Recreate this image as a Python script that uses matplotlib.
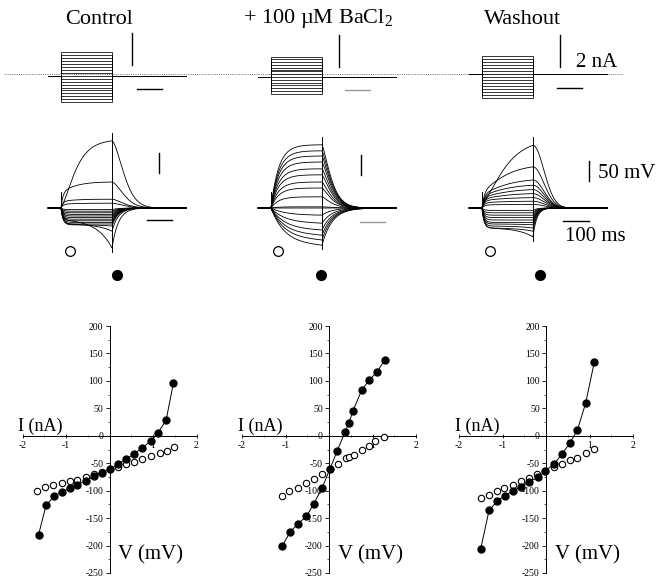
import numpy as np
import matplotlib.pyplot as plt
from matplotlib.ticker import MultipleLocator, FixedLocator, FixedFormatter

plt.rcParams['font.family'] = ['Liberation Serif', 'DejaVu Serif']
plt.rcParams['mathtext.fontset'] = 'custom'
plt.rcParams['mathtext.rm'] = 'Liberation Serif'
plt.rcParams['axes.unicode_minus'] = False

conditions = ['Control', '+ 100 µM BaCl$_2$', 'Washout']

# I-V points, filled = end of step, open = start of step
ctrl_filled_x = [-1.63, -1.46, -1.27, -1.09, -0.90, -0.74, -0.54, -0.35, -0.18, 0.02,
                 0.20, 0.38, 0.57, 0.75, 0.96, 1.11, 1.30, 1.47]
ctrl_filled_y = [-180, -127, -110, -102, -95, -89, -82, -74, -67, -61,
                 -52, -42, -33, -22, -9, 5, 28, 96]
ctrl_open_x = [-1.66, -1.48, -1.29, -1.10, -0.90, -0.74, -0.54, -0.35, -0.18, 0.02,
               0.20, 0.38, 0.57, 0.75, 0.96, 1.15, 1.33, 1.49]
ctrl_open_y = [-100, -93, -89, -86, -83, -80, -76, -69, -66, -60,
               -56, -51, -47, -42, -36, -31, -27, -21]

ba_filled_x = [-1.08, -0.89, -0.71, -0.52, -0.35, -0.16, 0.02, 0.19, 0.37, 0.46,
               0.55, 0.75, 0.92, 1.11, 1.28]
ba_filled_y = [-201, -175, -160, -147, -124, -95, -61, -27, 7, 24,
               45, 83, 101, 117, 138]
ba_open_x = [-1.08, -0.91, -0.72, -0.54, -0.35, -0.17, 0.02, 0.20, 0.38, 0.46,
             0.57, 0.75, 0.92, 1.05, 1.27]
ba_open_y = [-110, -100, -95, -86, -78, -70, -60, -52, -41, -38,
             -35, -25, -18, -9, -2]

wash_filled_x = [-1.50, -1.31, -1.12, -0.95, -0.77, -0.58, -0.39, -0.19, -0.02, 0.18,
                 0.36, 0.55, 0.72, 0.91, 1.11]
wash_filled_y = [-206, -136, -119, -109, -101, -93, -84, -76, -64, -52,
                 -34, -13, 10, 59, 134]
wash_open_x = [-1.50, -1.32, -1.12, -0.96, -0.77, -0.58, -0.39, -0.21, -0.02, 0.18,
               0.36, 0.55, 0.72, 0.91, 1.11]
wash_open_y = [-113, -107, -101, -95, -89, -83, -77, -70, -64, -57,
               -52, -45, -41, -32, -24]

filled_x = [ctrl_filled_x, ba_filled_x, wash_filled_x]
filled_y = [ctrl_filled_y, ba_filled_y, wash_filled_y]
open_x = [ctrl_open_x, ba_open_x, wash_open_x]
open_y = [ctrl_open_y, ba_open_y, wash_open_y]

# voltage deflections from rest (mV): early part of step and end of step
ctrl_end = [168, 65, 22, 12, -4, -8, -12, -16, -20, -24, -28, -32, -36, -40, -45, -58, -100]
ctrl_early = [10, 45, 18, 10, -4, -8, -12, -16, -20, -24, -28, -32, -36, -40, -42, -40, -30]
ba_end = [158, 143, 130, 115, 98, 83, 65, 50, 28, 3, 0, -18, -38, -55, -68, -80, -93]
ba_early = ba_end
wash_end = [157, 103, 70, 57, 46, 36, 26, 17, 9, -6, -12, -18, -24, -30, -36, -42, -50, -58, -72]
wash_early = [20, 50, 40, 35, 30, 25, 20, 14, 8, -6, -12, -18, -24, -30, -36, -40, -45, -50, -50]
v_end = [ctrl_end, ba_end, wash_end]
v_early = [ctrl_early, ba_early, wash_early]

# time constants per condition (ms)
kin = [dict(tf=(8, 8), ts=45, ta=60, td=60, p=1.6, tn=25),
       dict(tf=(30, 55), ts=45, ta=60, td=45, p=1.3, tn=40),
       dict(tf=(10, 8), ts=70, ta=60, td=60, p=2.0, tn=15)]

W, H = 666, 585
STEP = 200
PX_MS = 0.255
PX_NA = 16
PX_MV = 0.4
step_x = [61, 271, 482]
i_base = [76, 77, 74]
v_base = 208
t = np.linspace(-50, 490, 2161)


def v_trace(early, end, tf, ts, ta, td, p, tn):
    v = np.zeros_like(t)
    on = (t >= 0) & (t <= STEP)
    tt = t[on]
    tau = tf[0] if end >= 0 else tf[1]
    fast = early * (1 - np.exp(-tt / tau))
    rest = end - early * (1 - np.exp(-STEP / tau))
    if rest >= 0:
        r = ((1 - np.exp(-tt / ts)) / (1 - np.exp(-STEP / ts))) ** 2
    else:
        r = (np.exp(tt / ta) - 1) / (np.exp(STEP / ta) - 1)
    v[on] = fast + rest * r
    off = t > STEP
    dt = t[off] - STEP
    if end > 0:
        v[off] = end * np.exp(-(dt / td) ** p)
    else:
        v[off] = end * np.exp(-dt / tn)
    return v


fig = plt.figure(figsize=(W / 100, H / 100), dpi=100)


def px_axes(x0, y0, w, h):
    ax = fig.add_axes([x0 / W, 1 - (y0 + h) / H, w / W, h / H])
    ax.set_axis_off()
    ax.patch.set_visible(False)
    return ax


# zero current reference line
ref = px_axes(0, 74 - 48, W, 96)
ref.set_xlim(0, 1)
ref.set_ylim(-3, 3)
ref.axhline(0, xmin=0.006, xmax=0.935, color='0.35', lw=0.6, ls=(0, (1, 1.2)))

# scale bars: (current bar t, i0, i1), (time bar t0, y), (voltage bar t, v0, v1), (time bar t0, y)
i_bar = [(278, 0.69, 2.69), (267, 0.6, 2.6), (306, 0.44, 2.44)]
i_tbar = [(298, -0.81), (290, -0.81), (294, -0.875)]
v_bar = [(384, 87.5, 137.5), (353, 82.5, 132.5), (420, 67.5, 117.5)]
v_tbar = [(337, -30), (349, -35), (318, -32.5)]
tbar_color = ['black', '0.6', 'black']
marker_t = [(35, 220), (27, 196), (31, 227)]

for k in range(3):
    x0 = step_x[k]
    # current traces
    ai = px_axes(x0 - 250 * PX_MS, i_base[k] - 3 * PX_NA, 1000 * PX_MS, 6 * PX_NA)
    ai.set_xlim(-250, 750)
    ai.set_ylim(-3, 3)
    for a in filled_x[k]:
        ai.plot([-50, 0, 0, STEP, STEP, 490], [0, 0, a, a, 0, 0], color='black', lw=0.55)
    ti, b0, b1 = i_bar[k]
    ai.plot([ti, ti], [b0, b1], color='black', lw=1.0)
    tb, yb = i_tbar[k]
    ai.plot([tb, tb + 100], [yb, yb], color=tbar_color[k], lw=1.0)

    # voltage traces
    av = px_axes(x0 - 250 * PX_MS, v_base - 200 * PX_MV, 1000 * PX_MS, 380 * PX_MV)
    av.set_xlim(-250, 750)
    av.set_ylim(-180, 200)
    for e0, e1 in zip(v_early[k], v_end[k]):
        av.plot(t, v_trace(e0, e1, **kin[k]), color='black', lw=0.6)
    av.plot([STEP, STEP], [min(v_end[k]) - 10, max(v_end[k]) + 20], color='black', lw=0.7)
    av.plot([0, 0], [-5, 40], color='black', lw=0.7)
    tv, c0, c1 = v_bar[k]
    av.plot([tv, tv], [c0, c1], color='black', lw=1.0)
    tb, yb = v_tbar[k]
    av.plot([tb, tb + 100], [yb, yb], color=tbar_color[k], lw=1.0)
    av.plot(marker_t[k][0], -107.5, 'o', ms=7, mfc='white', mec='black', mew=0.9, clip_on=False)
    av.plot(marker_t[k][1], -167.5, 'o', ms=7, mfc='black', mec='black', clip_on=False)

    if k == 2:
        ai.text(369, 0.69, '2 nA', fontsize=15, ha='left', va='center')
        av.text(455, 87.5, '50 mV', fontsize=15, ha='left', va='center')
        av.text(325, -70, '100 ms', fontsize=15, ha='left', va='center')

# condition titles
title_x = [99, 318, 523]
for k in range(3):
    fig.text(title_x[k] / W, 1 - 19 / H, conditions[k], fontsize=16, ha='center', va='center')

# I-V plots
iv_center = [109.5, 329, 546]
for k in range(3):
    ax = fig.add_axes([(iv_center[k] - 87) / W, 1 - 573 / H, 174 / W, 247 / H])
    ax.patch.set_visible(False)
    ax.set_xlim(-2, 2)
    ax.set_ylim(-250, 200)
    for s in ['top', 'right']:
        ax.spines[s].set_visible(False)
    ax.spines['left'].set_position(('data', 0))
    ax.spines['bottom'].set_position(('data', 0))
    for s in ['left', 'bottom']:
        ax.spines[s].set_linewidth(0.7)
    ax.yaxis.set_major_locator(MultipleLocator(50))
    ax.yaxis.set_minor_locator(MultipleLocator(25))
    ax.xaxis.set_major_locator(FixedLocator([-2, -1, 0, 1, 2]))
    ax.xaxis.set_major_formatter(FixedFormatter(['-2', '-1', '', '1', '2']))
    ax.xaxis.set_minor_locator(MultipleLocator(0.5))
    ax.tick_params(axis='y', which='major', direction='out', length=3, width=0.6,
                   labelsize=7, pad=1.5)
    ax.tick_params(axis='y', which='minor', direction='out', length=1.5, width=0.5)
    ax.tick_params(axis='x', which='major', direction='inout', length=3, width=0.6,
                   labelsize=7, pad=2)
    ax.tick_params(axis='x', which='minor', direction='inout', length=2, width=0.5)

    ax.plot(open_x[k], open_y[k], 'o', ms=4.6, mfc='white', mec='black', mew=0.8,
            linestyle='none', clip_on=False, zorder=3)
    ax.plot(filled_x[k], filled_y[k], '-o', color='black', lw=0.7, ms=5,
            clip_on=False, zorder=4)
    ax.text(-2.1, 2, 'I (nA)', fontsize=13, ha='left', va='bottom')
    ax.text(0.2, -217, 'V (mV)', fontsize=15, ha='left', va='center')

fig.savefig('out.png', dpi=100)
